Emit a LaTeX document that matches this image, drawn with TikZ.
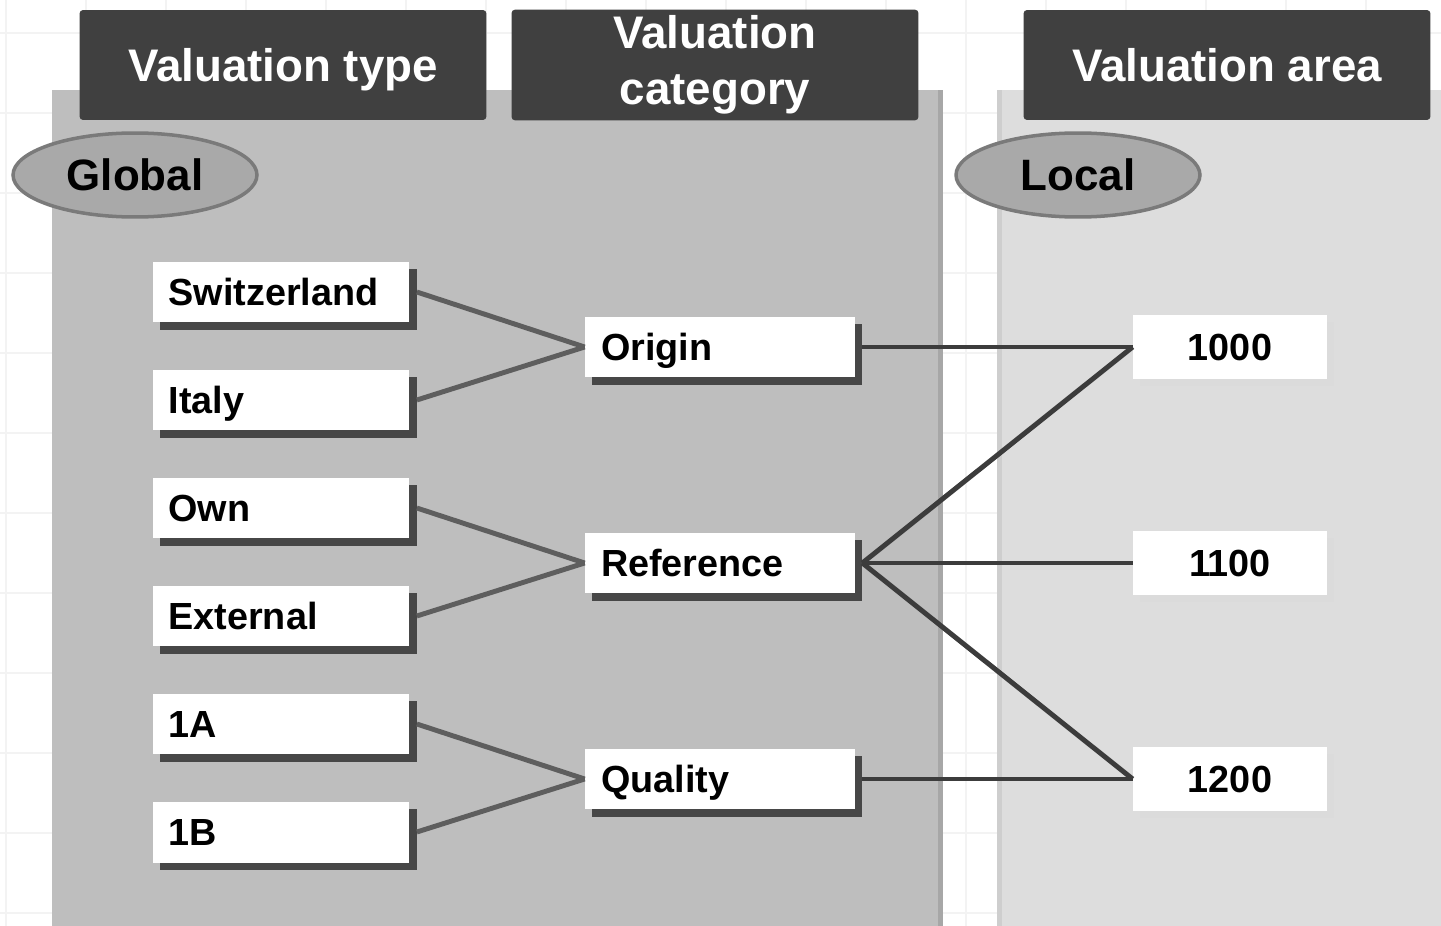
\documentclass[tikz,border=0pt]{standalone}
\usepackage{fontspec}
\setmainfont{Liberation Sans}
\usetikzlibrary{shapes.geometric, shadows}
\definecolor{hdrgray}{HTML}{404040}
\definecolor{panelgray}{HTML}{BEBEBE}
\definecolor{arealight}{HTML}{DDDDDD}
\definecolor{ovalgray}{HTML}{A9A9A9}
\definecolor{ovalline}{HTML}{7A7A7A}
\definecolor{gridgray}{HTML}{F3F3F3}
\definecolor{linkgray}{HTML}{5E5E5E}
\definecolor{linkdark}{HTML}{3C3C3C}

\begin{document}
\begin{tikzpicture}[x=0.02cm, y=-0.02cm,
    hdr/.style={fill=hdrgray, rounded corners=2pt, text=white, align=center,
        font=\fontsize{26}{31}\selectfont\bfseries, minimum width=8.14cm, minimum height=2.2cm},
    oval/.style={ellipse, fill=ovalgray, draw=ovalline, line width=2pt, inner sep=0pt,
        minimum width=4.88cm, minimum height=1.68cm, font=\fontsize{25}{30}\selectfont\bfseries},
    vtype/.style={fill=white, drop shadow={opacity=1, fill=black!72, shadow xshift=4pt, shadow yshift=-4pt},
        text width=4.5cm, inner xsep=0.32cm, minimum height=1.22cm, align=left,
        text height=15pt, text depth=0pt, font=\fontsize{21.5}{25}\selectfont\bfseries},
    vcat/.style={vtype, text width=4.76cm},
    varea/.style={fill=white, drop shadow={opacity=1, fill=black!14, shadow xshift=4pt, shadow yshift=-4pt},
        minimum width=3.88cm, minimum height=1.28cm, text height=15pt, text depth=0pt,
        font=\fontsize{21.5}{25}\selectfont\bfseries},
    link/.style={linkgray, line width=2.8pt},
    linkb/.style={linkdark, line width=2.8pt}]
    \useasboundingbox (0, 0) rectangle (1441, 926);
    \fill[white] (0, 0) rectangle (1441, 926);
    \foreach \gy in {33, 113, ..., 926} \draw[gridgray, line width=1.5pt] (0, \gy) -- (1441, \gy);
    \foreach \gx in {6, 86, ..., 1441} \draw[gridgray, line width=1.5pt] (\gx, 0) -- (\gx, 926);
    \fill[panelgray] (52, 90) rectangle (943, 926);
    \fill[panelgray!88!black] (938, 90) rectangle (943, 926);
    \fill[arealight] (997, 90) rectangle (1441, 926);
    \fill[arealight!93!black] (997, 90) rectangle (1002, 926);
    \node[hdr, text height=19pt, text depth=0pt] (htype) at (283, 65) {Valuation type};
    \node[hdr] (hcat) at (715, 65) {Valuation\\[1pt]category};
    \node[hdr, text height=19pt, text depth=0pt] (harea) at (1227, 65) {Valuation area};
    \node[oval] (global) at (135, 175) {Global};
    \node[oval] (local) at (1078, 175) {Local};
    \node[vtype] (sw) at (281, 292) {Switzerland};
    \node[vtype] (it) at (281, 400) {Italy};
    \node[vtype] (own) at (281, 508) {Own};
    \node[vtype] (ext) at (281, 616) {External};
    \node[vtype] (oa) at (281, 724) {1A};
    \node[vtype] (ob) at (281, 832) {1B};
    \node[vcat] (orig) at (720, 347) {Origin};
    \node[vcat] (ref) at (720, 563) {Reference};
    \node[vcat] (qual) at (720, 779) {Quality};
    \node[varea] (a1) at (1230, 347) {1000};
    \node[varea] (a2) at (1230, 563) {1100};
    \node[varea] (a3) at (1230, 779) {1200};
    \foreach \a/\b in {sw/orig, it/orig, own/ref, ext/ref, oa/qual, ob/qual}
        \draw[link] ([xshift=4pt]\a.east) -- (\b.west);
    \foreach \a/\b in {orig/a1, ref/a1, ref/a2, ref/a3, qual/a3}
        \draw[linkb] ([xshift=4pt]\a.east) -- (\b.west);
\end{tikzpicture}
\end{document}
